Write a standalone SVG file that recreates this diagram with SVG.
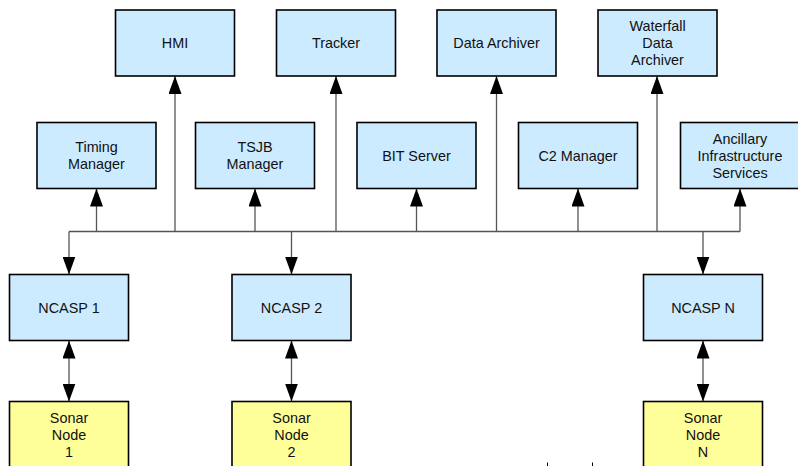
<svg xmlns="http://www.w3.org/2000/svg" width="798" height="466" viewBox="0 0 798 466">
<style>
.b{fill:#CCEBFF;stroke:#000;stroke-width:1.6}
.y{fill:#FFFF99;stroke:#000;stroke-width:1.6}
text{font-family:"Liberation Sans",Arial,sans-serif;font-size:14.4px;fill:#111;text-anchor:middle}
.c{fill:none;stroke:#555;stroke-width:1.3}
</style>
<defs>
<marker id="ah" markerUnits="userSpaceOnUse" markerWidth="18" markerHeight="13" refX="18" refY="6.5" orient="auto-start-reverse" viewBox="0 0 18 13">
<path d="M0,0 L18,6.5 L0,13 z" fill="#000"/>
</marker>
</defs>
<rect width="798" height="466" fill="#fff"/>
<g id="connectors">
<path class="c" d="M69,231.5 H740"/>
<path class="c" d="M69,231.5 V274.5" marker-end="url(#ah)"/>
<path class="c" d="M291.5,231.5 V274.5" marker-end="url(#ah)"/>
<path class="c" d="M703,231.5 V274.5" marker-end="url(#ah)"/>
<path class="c" d="M96.5,231.5 V188.5" marker-end="url(#ah)"/>
<path class="c" d="M175,231.5 V76" marker-end="url(#ah)"/>
<path class="c" d="M255,231.5 V188.5" marker-end="url(#ah)"/>
<path class="c" d="M336,231.5 V76" marker-end="url(#ah)"/>
<path class="c" d="M416.5,231.5 V188.5" marker-end="url(#ah)"/>
<path class="c" d="M496.5,231.5 V76" marker-end="url(#ah)"/>
<path class="c" d="M578,231.5 V188.5" marker-end="url(#ah)"/>
<path class="c" d="M657,231.5 V76" marker-end="url(#ah)"/>
<path class="c" d="M740,231.5 V188.5" marker-end="url(#ah)"/>
<path class="c" d="M69,340.5 V401.5" marker-start="url(#ah)" marker-end="url(#ah)"/>
<path class="c" d="M291.5,340.5 V401.5" marker-start="url(#ah)" marker-end="url(#ah)"/>
<path class="c" d="M703,340.5 V401.5" marker-start="url(#ah)" marker-end="url(#ah)"/>
<path d="M547.5,462.5 V466 M592.5,462.5 V466" stroke="#000" stroke-width="1"/>
</g>
<g id="hmi"><rect class="b" x="115.5" y="10" width="119" height="66"/><text x="175" y="48">HMI</text></g>
<g id="tracker"><rect class="b" x="276.5" y="10" width="119" height="66"/><text x="336" y="48">Tracker</text></g>
<g id="data-archiver"><rect class="b" x="437" y="10" width="119" height="66"/><text x="496.5" y="48">Data Archiver</text></g>
<g id="waterfall"><rect class="b" x="598" y="10" width="119" height="66"/><text x="657.5" y="30.5">Waterfall</text><text x="657.5" y="47.5">Data</text><text x="657.5" y="64.5">Archiver</text></g>
<g id="timing"><rect class="b" x="37" y="122.5" width="119" height="66"/><text x="96.5" y="152">Timing</text><text x="96.5" y="169">Manager</text></g>
<g id="tsjb"><rect class="b" x="195.5" y="122.5" width="119" height="66"/><text x="255" y="152">TSJB</text><text x="255" y="169">Manager</text></g>
<g id="bit"><rect class="b" x="357" y="122.5" width="119" height="66"/><text x="416.5" y="160.5">BIT Server</text></g>
<g id="c2"><rect class="b" x="518.5" y="122.5" width="119" height="66"/><text x="578" y="160.5">C2 Manager</text></g>
<g id="ancillary"><rect class="b" x="680.5" y="122.5" width="119" height="66"/><text x="740" y="143.5">Ancillary</text><text x="740" y="160.5">Infrastructure</text><text x="740" y="177.5">Services</text></g>
<g id="ncasp1"><rect class="b" x="9.5" y="274.5" width="119" height="66"/><text x="69" y="312.5">NCASP 1</text></g>
<g id="ncasp2"><rect class="b" x="232" y="274.5" width="119" height="66"/><text x="291.5" y="312.5">NCASP 2</text></g>
<g id="ncaspn"><rect class="b" x="643.5" y="274.5" width="119" height="66"/><text x="703" y="312.5">NCASP N</text></g>
<g id="sonar1"><rect class="y" x="9.5" y="401.5" width="119" height="70"/><text x="69" y="422.5">Sonar</text><text x="69" y="439.5">Node</text><text x="69" y="456.5">1</text></g>
<g id="sonar2"><rect class="y" x="232" y="401.5" width="119" height="70"/><text x="291.5" y="422.5">Sonar</text><text x="291.5" y="439.5">Node</text><text x="291.5" y="456.5">2</text></g>
<g id="sonarn"><rect class="y" x="643.5" y="401.5" width="119" height="70"/><text x="703" y="422.5">Sonar</text><text x="703" y="439.5">Node</text><text x="703" y="456.5">N</text></g>
</svg>
